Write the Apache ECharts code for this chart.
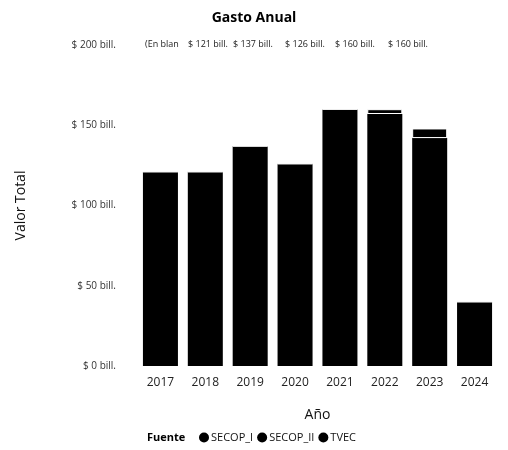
<!DOCTYPE html>
<html><head><meta charset="utf-8">
<script src="https://cdn.jsdelivr.net/npm/echarts@6/dist/echarts.min.js"></script>
<style>html,body{margin:0;padding:0;background:#fff}#c{width:508px;height:450px}</style>
</head><body><div id="c"></div>
<script>
const years = ['2017','2018','2019','2020','2021','2022','2023','2024'];
const secopI  = [0, 0, 0, 0, 0, 0, 0, 0];
const secopII = [121, 121, 137, 126, 160, 157, 142, 40];
const tvec    = [0, 0, 0, 0, 0, 3, 6, 0];
const yTicks = [0, 50, 100, 150, 200];
const topLabels = ['(En blanco)', '$ 121 bill.', '$ 137 bill.', '$ 126 bill.', '$ 160 bill.', '$ 160 bill.'];
const font = '"Open Sans", "Noto Sans", sans-serif';
const labelX = [145, 188, 233, 285, 335, 388];

const chart = echarts.init(document.getElementById('c'));
chart.setOption({
  animation: false,
  title: {text: 'Gasto Anual', left: 'center', top: 6,
    textStyle: {fontSize: 14, fontWeight: 'bold', color: '#000', fontFamily: font}},
  grid: {left: 138, right: 11, top: 45, bottom: 84},
  legend: {bottom: 2, left: 194, itemWidth: 10, itemHeight: 10, itemGap: 4, icon: 'circle',
    textStyle: {fontSize: 11, color: '#111', fontFamily: font, padding: [0,0,0,-3]},
    data: [{name:'SECOP_I'},{name:'SECOP_II'},{name:'TVEC', itemStyle:{borderWidth:0}}]},
  graphic: [
    {type: 'text', left: 147, bottom: 7, style: {text: 'Fuente', font: 'bold 11px ' + font, fill: '#000'}}
  ].concat(topLabels.map((t, i) => ({type: 'text', left: labelX[i], top: 40,
      style: i === 0
        ? {text: t, font: '9px ' + font, fill: '#222', width: 38, overflow: 'truncate', ellipsis: ''}
        : {text: t, font: '9px ' + font, fill: '#222'}}))),
  xAxis: {type: 'category', data: years, name: 'Año', nameLocation: 'middle', nameGap: 42,
    nameTextStyle: {fontSize: 14, color: '#111', fontFamily: font},
    axisLine: {show: false}, axisTick: {show: false},
    axisLabel: {fontSize: 12, color: '#222', margin: 11, fontFamily: font}},
  yAxis: {type: 'value', min: yTicks[0], max: yTicks[yTicks.length-1], interval: 50,
    name: 'Valor Total', nameLocation: 'middle', nameGap: 110,
    nameTextStyle: {fontSize: 14, color: '#111', fontFamily: font},
    splitLine: {show: false}, axisLine: {show: false}, axisTick: {show: false},
    axisLabel: {fontSize: 10, color: '#333', margin: 22, fontFamily: font,
      formatter: v => '$ ' + v + ' bill.'}},
  series: [
    {name: 'SECOP_I', type: 'bar', stack: 't', data: secopI, barCategoryGap: '22%',
      itemStyle: {color: '#000'}},
    {name: 'SECOP_II', type: 'bar', stack: 't', data: secopII,
      itemStyle: {color: '#000'}},
    {name: 'TVEC', type: 'bar', stack: 't', data: tvec,
      itemStyle: {color: '#000', borderColor: '#fff', borderWidth: 1}}
  ]
});
</script></body></html>
